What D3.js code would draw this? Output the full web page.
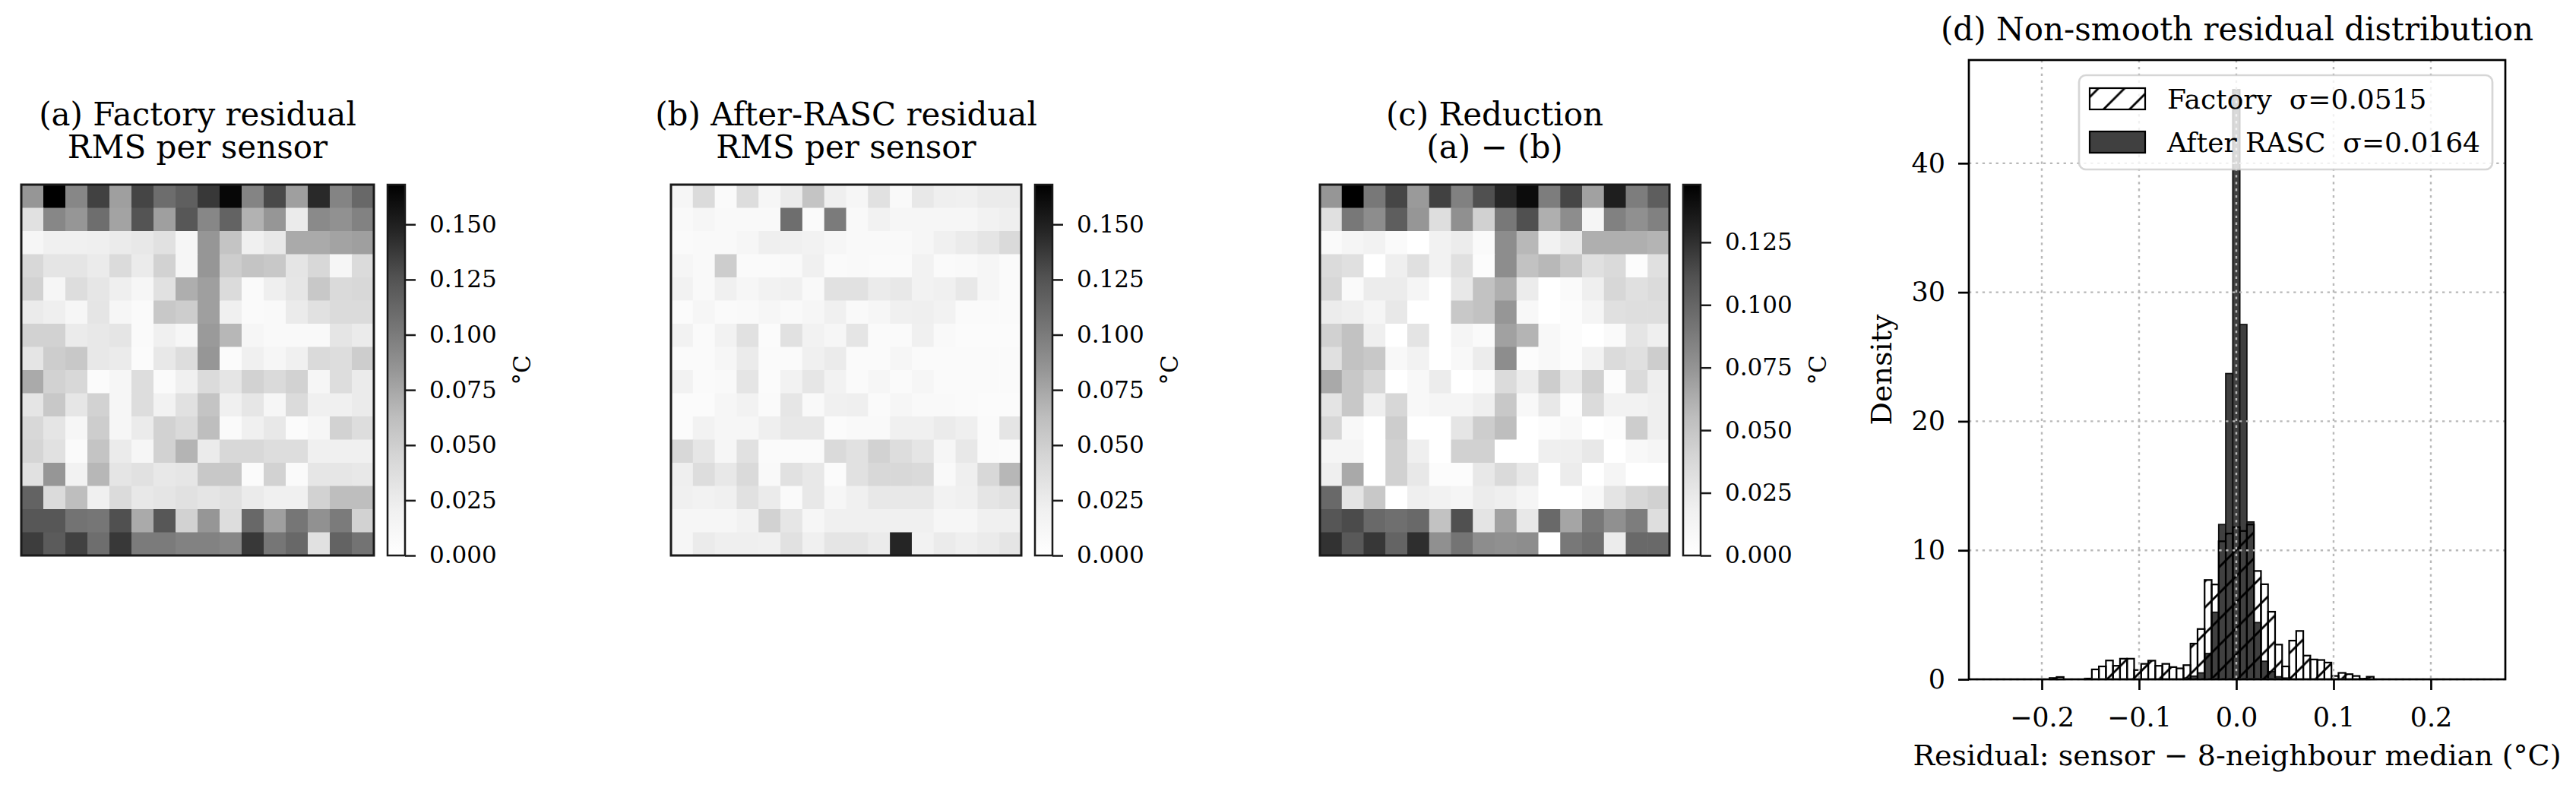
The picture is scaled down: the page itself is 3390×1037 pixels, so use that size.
<!DOCTYPE html>
<html><head><meta charset="utf-8">
<script src="https://cdn.jsdelivr.net/npm/d3@7"></script>
<style>body{margin:0;background:#fff} svg text{font-family:"DejaVu Serif",serif;fill:#000}</style>
</head><body><svg id="c" width="3390" height="1037"></svg>
<script>
// ---------------- DATA ----------------
const factoryRMS = [
[0.084,0.168,0.093,0.134,0.079,0.132,0.109,0.118,0.138,0.164,0.095,0.130,0.079,0.145,0.095,0.112],
[0.035,0.093,0.084,0.108,0.077,0.125,0.079,0.123,0.093,0.115,0.069,0.084,0.026,0.091,0.087,0.096],
[0.012,0.021,0.021,0.022,0.026,0.028,0.035,0.013,0.084,0.058,0.021,0.028,0.073,0.073,0.077,0.079],
[0.043,0.031,0.031,0.026,0.040,0.026,0.047,0.012,0.084,0.051,0.058,0.055,0.031,0.043,0.012,0.040],
[0.047,0.012,0.038,0.030,0.022,0.012,0.035,0.071,0.079,0.040,0.007,0.022,0.030,0.055,0.041,0.043],
[0.026,0.022,0.012,0.031,0.012,0.007,0.055,0.051,0.079,0.021,0.007,0.009,0.026,0.035,0.040,0.040],
[0.047,0.047,0.026,0.028,0.031,0.007,0.021,0.012,0.082,0.066,0.012,0.009,0.009,0.009,0.031,0.026],
[0.031,0.051,0.055,0.028,0.026,0.005,0.028,0.038,0.084,0.005,0.021,0.012,0.021,0.041,0.038,0.051],
[0.073,0.047,0.043,0.005,0.012,0.038,0.007,0.021,0.040,0.031,0.047,0.041,0.047,0.012,0.038,0.026],
[0.031,0.055,0.030,0.047,0.012,0.038,0.018,0.035,0.058,0.021,0.030,0.012,0.040,0.021,0.021,0.026],
[0.043,0.031,0.012,0.051,0.012,0.026,0.047,0.041,0.062,0.007,0.021,0.028,0.005,0.012,0.047,0.038],
[0.045,0.035,0.007,0.058,0.026,0.012,0.047,0.068,0.026,0.043,0.043,0.038,0.038,0.021,0.021,0.021],
[0.035,0.084,0.018,0.066,0.031,0.035,0.028,0.030,0.055,0.055,0.005,0.047,0.007,0.030,0.030,0.028],
[0.115,0.040,0.062,0.021,0.040,0.028,0.031,0.035,0.031,0.035,0.026,0.021,0.021,0.047,0.062,0.062],
[0.123,0.123,0.105,0.103,0.127,0.073,0.123,0.047,0.084,0.038,0.112,0.079,0.103,0.087,0.100,0.047],
[0.136,0.120,0.134,0.108,0.138,0.100,0.100,0.096,0.096,0.093,0.138,0.103,0.112,0.035,0.115,0.105]
];
const rascRMS = [
[0.012,0.040,0.007,0.038,0.012,0.026,0.058,0.022,0.012,0.035,0.009,0.028,0.022,0.021,0.026,0.026],
[0.009,0.012,0.009,0.009,0.009,0.108,0.007,0.100,0.009,0.018,0.012,0.012,0.012,0.012,0.018,0.022],
[0.007,0.009,0.009,0.012,0.022,0.021,0.018,0.012,0.009,0.009,0.009,0.012,0.021,0.026,0.031,0.041],
[0.012,0.009,0.051,0.007,0.007,0.009,0.021,0.007,0.009,0.007,0.007,0.018,0.007,0.009,0.012,0.007],
[0.018,0.009,0.021,0.012,0.018,0.021,0.009,0.035,0.035,0.026,0.028,0.018,0.021,0.028,0.012,0.007],
[0.005,0.012,0.007,0.009,0.012,0.009,0.012,0.021,0.009,0.012,0.021,0.022,0.018,0.007,0.007,0.007],
[0.018,0.007,0.018,0.035,0.005,0.035,0.018,0.012,0.031,0.007,0.007,0.021,0.009,0.005,0.005,0.005],
[0.007,0.007,0.012,0.026,0.007,0.007,0.021,0.026,0.007,0.007,0.012,0.007,0.007,0.007,0.007,0.007],
[0.018,0.007,0.009,0.031,0.005,0.018,0.030,0.018,0.007,0.012,0.007,0.012,0.007,0.007,0.007,0.007],
[0.005,0.005,0.012,0.018,0.007,0.030,0.009,0.021,0.022,0.007,0.012,0.009,0.009,0.007,0.005,0.005],
[0.005,0.018,0.012,0.012,0.022,0.028,0.028,0.005,0.009,0.009,0.021,0.021,0.026,0.022,0.007,0.031],
[0.043,0.030,0.012,0.035,0.007,0.007,0.007,0.041,0.035,0.047,0.038,0.031,0.012,0.028,0.007,0.007],
[0.022,0.038,0.028,0.041,0.009,0.035,0.028,0.005,0.035,0.043,0.043,0.041,0.009,0.022,0.043,0.066],
[0.021,0.018,0.021,0.035,0.026,0.007,0.028,0.012,0.021,0.028,0.028,0.028,0.018,0.021,0.031,0.035],
[0.012,0.012,0.012,0.018,0.047,0.030,0.012,0.021,0.021,0.021,0.021,0.021,0.012,0.012,0.021,0.021],
[0.012,0.026,0.022,0.022,0.021,0.035,0.021,0.031,0.031,0.026,0.147,0.018,0.026,0.022,0.026,0.031]
];
const reductionRMS = [
[0.074,0.148,0.090,0.116,0.072,0.118,0.085,0.112,0.129,0.142,0.087,0.116,0.069,0.133,0.087,0.104],
[0.031,0.090,0.079,0.104,0.074,0.033,0.077,0.042,0.090,0.112,0.062,0.079,0.012,0.085,0.077,0.085],
[0.006,0.012,0.016,0.006,0.000,0.016,0.022,0.006,0.079,0.058,0.016,0.025,0.062,0.062,0.062,0.060],
[0.035,0.031,0.000,0.019,0.031,0.016,0.031,0.004,0.079,0.052,0.058,0.048,0.031,0.036,0.004,0.031],
[0.038,0.006,0.022,0.022,0.012,0.000,0.025,0.052,0.062,0.022,0.000,0.006,0.019,0.038,0.031,0.035],
[0.022,0.019,0.012,0.025,0.000,0.000,0.048,0.052,0.074,0.009,0.000,0.004,0.012,0.031,0.033,0.033],
[0.042,0.052,0.019,0.000,0.028,0.000,0.012,0.006,0.069,0.060,0.009,0.004,0.000,0.006,0.027,0.019],
[0.031,0.052,0.048,0.009,0.016,0.000,0.009,0.022,0.079,0.004,0.009,0.004,0.016,0.035,0.031,0.045],
[0.065,0.048,0.038,0.000,0.009,0.022,0.000,0.006,0.035,0.022,0.045,0.025,0.042,0.004,0.035,0.020],
[0.028,0.048,0.019,0.038,0.009,0.012,0.012,0.019,0.048,0.009,0.025,0.004,0.035,0.016,0.016,0.019],
[0.038,0.009,0.000,0.045,0.000,0.000,0.027,0.045,0.055,0.000,0.004,0.009,0.000,0.004,0.045,0.019],
[0.012,0.012,0.000,0.042,0.019,0.000,0.042,0.042,0.000,0.000,0.019,0.019,0.025,0.000,0.009,0.012],
[0.019,0.065,0.000,0.042,0.025,0.004,0.004,0.025,0.036,0.025,0.000,0.022,0.000,0.012,0.000,0.000],
[0.098,0.028,0.048,0.000,0.019,0.016,0.012,0.022,0.019,0.012,0.000,0.000,0.009,0.028,0.038,0.042],
[0.109,0.114,0.098,0.095,0.098,0.052,0.112,0.028,0.069,0.025,0.098,0.067,0.090,0.077,0.087,0.033],
[0.124,0.107,0.122,0.101,0.126,0.077,0.092,0.079,0.077,0.079,-0.010,0.090,0.095,0.022,0.098,0.098]
];
const panelTitles = [
  ["(a) Factory residual", "RMS per sensor"],
  ["(b) After-RASC residual", "RMS per sensor"],
  ["(c) Reduction", "(a) \u2212 (b)"]
];
const colorbarMax = [0.168, 0.168, 0.148];
const colorbarTicksAB = [0, 0.025, 0.05, 0.075, 0.1, 0.125, 0.15];
const colorbarTicksC = [0, 0.025, 0.05, 0.075, 0.1, 0.125];
const colorbarLabel = "\u00b0C";

// histogram: 69 equal bins from -0.25 to 0.25
const binLo = -0.25, binHi = 0.25, binCount = 69;
const factoryDensity = [0,0,0,0,0,0,0,0,0.1,0.18,0,0,0,0.06,0.77,1.0,1.46,1.05,1.6,1.6,0.72,1.2,1.45,1.05,1.2,0.95,0.85,1.1,2.77,3.9,7.7,7.35,10.7,11.3,11.8,11.5,12.0,8.4,7.37,5.24,2.69,1.0,3.0,3.75,1.84,1.54,1.5,1.3,0.26,0.5,0.4,0.26,0.05,0.2,0,0,0,0,0,0,0,0,0,0,0,0,0,0,0];
const rascDensity = [0,0,0,0,0,0,0,0,0,0,0,0,0,0,0,0,0,0,0,0,0,0,0,0,0,0,0,0.1,0.25,0.5,2.0,5.2,12.0,23.7,45.7,27.5,12.2,4.4,1.4,0.6,0.2,0.1,0,0,0,0,0,0,0,0,0,0,0,0,0,0,0,0,0,0,0,0,0,0,0,0,0,0,0];
const histXTicks = [-0.2, -0.1, 0.0, 0.1, 0.2];
const histYTicks = [0, 10, 20, 30, 40];
const histTitle = "(d) Non-smooth residual distribution";
const histXLabel = "Residual: sensor \u2212 8-neighbour median (\u00b0C)";
const histYLabel = "Density";
const legendLabels = ["Factory  \u03c3=0.0515", "After RASC  \u03c3=0.0164"];

// ---------------- DRAW ----------------
const svg = d3.select("#c");
const greys = ["#ffffff","#f0f0f0","#d9d9d9","#bdbdbd","#969696","#737373","#525252","#252525","#000000"];
const Y0 = 243, Y1 = 731;
const panels = [[28, 492], [883, 1344], [1737, 2197]];
const datasets = [factoryRMS, rascRMS, reductionRMS];
const defs = svg.append("defs");

panels.forEach(([x0, x1], p) => {
  const vmax = colorbarMax[p];
  const data = datasets[p];
  const xs = d3.scaleBand().domain(d3.range(16)).range([x0, x1]);
  const ys = d3.scaleBand().domain(d3.range(16)).range([Y0, Y1]);
  const color = d3.scaleLinear().domain(greys.map((c, i) => i / 8 * vmax)).range(greys).clamp(true);
  const g = svg.append("g");
  g.selectAll("rect").data(data.flatMap((row, r) => row.map((v, c) => ({r, c, v})))).join("rect")
    .attr("x", d => xs(d.c)).attr("y", d => ys(d.r))
    .attr("width", xs.bandwidth() + 0.6).attr("height", ys.bandwidth() + 0.6)
    .attr("fill", d => color(d.v));
  g.append("rect").attr("x", x0).attr("y", Y0).attr("width", x1 - x0).attr("height", Y1 - Y0)
    .attr("fill", "none").attr("stroke", "#1a1a1a").attr("stroke-width", 3);
  const cx = (x0 + x1) / 2;
  const tt = g.append("text").attr("text-anchor", "middle").style("font-size", "42px");
  tt.append("tspan").attr("x", cx).attr("y", 165).text(panelTitles[p][0]);
  tt.append("tspan").attr("x", cx).attr("y", 208).text(panelTitles[p][1]);

  // colorbar
  const cb0 = x1 + 18, cbw = 23;
  const gid = "grad" + p;
  const grad = defs.append("linearGradient").attr("id", gid).attr("x1", 0).attr("y1", 1).attr("x2", 0).attr("y2", 0);
  greys.forEach((c, i) => grad.append("stop").attr("offset", i / 8).attr("stop-color", c));
  g.append("rect").attr("x", cb0).attr("y", Y0).attr("width", cbw).attr("height", Y1 - Y0)
    .attr("fill", `url(#${gid})`).attr("stroke", "#1a1a1a").attr("stroke-width", 2.5);
  const cy = d3.scaleLinear().domain([0, vmax]).range([Y1, Y0]);
  const ax = g.append("g").attr("transform", `translate(${cb0 + cbw},0)`)
    .call(d3.axisRight(cy).tickValues(p < 2 ? colorbarTicksAB : colorbarTicksC)
      .tickFormat(d3.format(".3f")).tickSize(14).tickPadding(18));
  ax.select(".domain").remove();
  ax.selectAll(".tick line").attr("stroke", "#1a1a1a").attr("stroke-width", 2.5);
  ax.selectAll(".tick text").attr("fill", "#000").style("font-size", "31px").attr("font-family", null);
  g.append("text").attr("transform", `translate(${cb0 + cbw + 154},${(Y0 + Y1) / 2}) rotate(-90)`)
    .attr("text-anchor", "middle").attr("dy", "0.35em").style("font-size", "31px").text(colorbarLabel);
});

// ---------------- HISTOGRAM ----------------
const HX0 = 2591, HX1 = 3297, HY0 = 79, HY1 = 894;
const hx = d3.scaleLinear().domain([-0.275, 0.2766]).range([HX0, HX1]);
const hy = d3.scaleLinear().domain([0, 48.0]).range([HY1, HY0]);
const edges = d3.range(binCount + 1).map(i => binLo + (binHi - binLo) * i / binCount);
const hg = svg.append("g");

const hatch = defs.append("pattern").attr("id", "hatch").attr("patternUnits", "userSpaceOnUse")
  .attr("width", 34.3).attr("height", 34.3).attr("patternTransform", "translate(-3.4,0)");
hatch.append("path").attr("d", "M-8.6,8.6L8.6,-8.6M0,34.3L34.3,0M25.7,42.9L42.9,25.7")
  .attr("stroke", "#000").attr("stroke-width", 2.8);

const rascBins = rascDensity.map((h, i) => ({h, i})).filter(d => d.h > 0);
const facBins = factoryDensity.map((h, i) => ({h, i})).filter(d => d.h > 0);
hg.append("g").selectAll("rect").data(rascBins).join("rect")
  .attr("x", d => hx(edges[d.i])).attr("width", d => hx(edges[d.i + 1]) - hx(edges[d.i]))
  .attr("y", d => hy(d.h)).attr("height", d => hy(0) - hy(d.h))
  .attr("fill", "#404040").attr("stroke", "#111").attr("stroke-width", 1.8);
hg.append("g").selectAll("rect").data(facBins).join("rect")
  .attr("x", d => hx(edges[d.i])).attr("width", d => hx(edges[d.i + 1]) - hx(edges[d.i]))
  .attr("y", d => hy(d.h)).attr("height", d => hy(0) - hy(d.h))
  .attr("fill", "url(#hatch)").attr("stroke", "#000").attr("stroke-width", 2.2);

// grid
const gridG = hg.append("g").attr("stroke", "#b8b8b8").attr("stroke-width", 2.4).attr("stroke-dasharray", "3.3,5.6");
gridG.selectAll(".vx").data(histXTicks).join("line").attr("x1", d => hx(d)).attr("x2", d => hx(d)).attr("y1", HY0).attr("y2", HY1);
gridG.selectAll(".hy").data(histYTicks).join("line").attr("y1", d => hy(d)).attr("y2", d => hy(d)).attr("x1", HX0).attr("x2", HX1);

// axes
const xa = hg.append("g").attr("transform", `translate(0,${HY1})`)
  .call(d3.axisBottom(hx).tickValues(histXTicks).tickFormat(d => d === 0 ? "0.0" : d3.format(".1f")(d)).tickSize(14).tickPadding(23));
const ya = hg.append("g").attr("transform", `translate(${HX0},0)`)
  .call(d3.axisLeft(hy).tickValues(histYTicks).tickFormat(d3.format("d")).tickSize(14).tickPadding(17));
[xa, ya].forEach(a => {
  a.select(".domain").remove();
  a.selectAll(".tick line").attr("stroke", "#000").attr("stroke-width", 2.7);
  a.selectAll(".tick text").attr("fill", "#000").style("font-size", "35px").attr("font-family", null);
});
hg.append("rect").attr("x", HX0).attr("y", HY0).attr("width", HX1 - HX0).attr("height", HY1 - HY0)
  .attr("fill", "none").attr("stroke", "#000").attr("stroke-width", 2.7);

hg.append("text").attr("x", (HX0 + HX1) / 2).attr("y", 53).attr("text-anchor", "middle").style("font-size", "42px").text(histTitle);
hg.append("text").attr("x", (HX0 + HX1) / 2).attr("y", 1007).attr("text-anchor", "middle").style("font-size", "38px").text(histXLabel);
hg.append("text").attr("transform", `translate(2476,${(HY0 + HY1) / 2}) rotate(-90)`).attr("text-anchor", "middle")
  .attr("dy", "0.35em").style("font-size", "38px").text(histYLabel);

// legend
const lg = hg.append("g");
lg.append("rect").attr("x", 2736).attr("y", 99).attr("width", 544).attr("height", 124).attr("rx", 9)
  .attr("fill", "#fff").attr("fill-opacity", 0.8).attr("stroke", "#ccc").attr("stroke-opacity", 0.8).attr("stroke-width", 2.7);
const handles = [{fill: "url(#hatch)", y: 116}, {fill: "#404040", y: 173}];
handles.forEach((h, i) => {
  lg.append("rect").attr("x", 2750).attr("y", h.y).attr("width", 73).attr("height", 28)
    .attr("fill", h.fill).attr("stroke", "#000").attr("stroke-width", 2.2);
  lg.append("text").attr("x", 2852).attr("y", h.y + 27).style("font-size", "36px").style("white-space", "pre").text(legendLabels[i]);
});
</script></body></html>
